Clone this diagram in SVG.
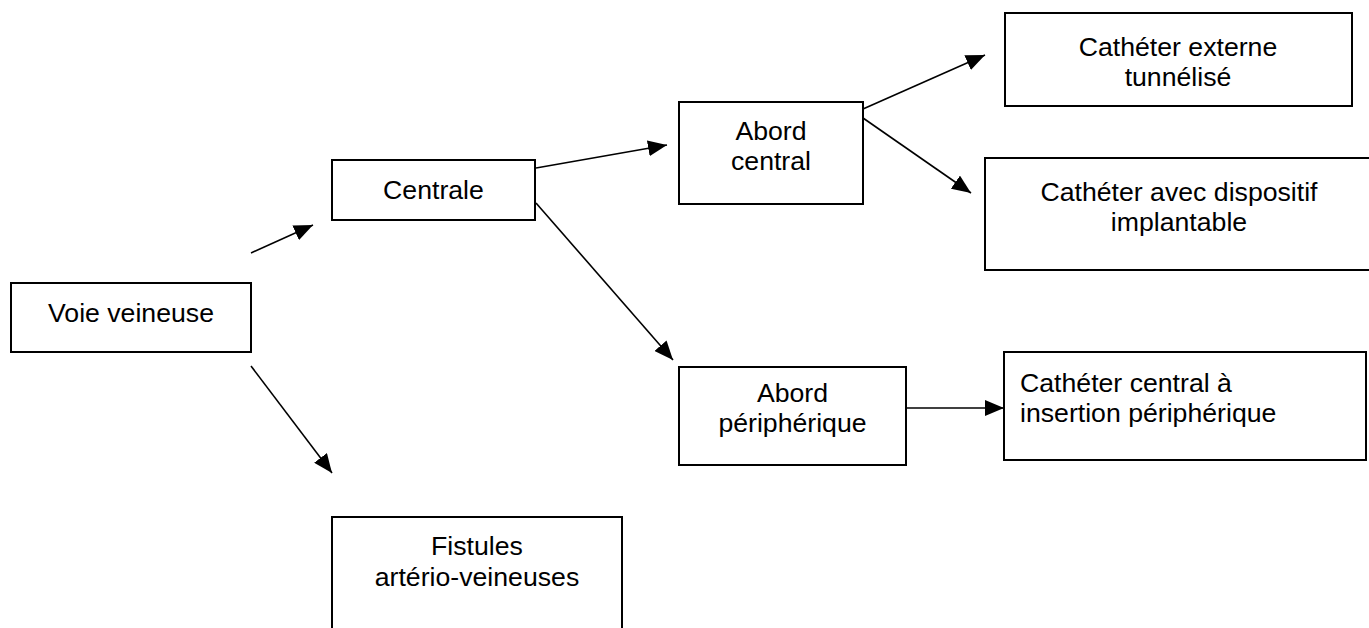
<svg xmlns="http://www.w3.org/2000/svg" width="1369" height="628" viewBox="0 0 1369 628">
<style>
.box{fill:#fff;stroke:#000;stroke-width:2}
.t{font-family:"Liberation Sans",Arial,sans-serif;font-size:26.67px;fill:#000;text-anchor:middle}
.tl{text-anchor:start}
.c{stroke:#000;stroke-width:1.6;fill:none;marker-end:url(#ah)}
</style>
<defs>
<marker id="ah" markerUnits="userSpaceOnUse" markerWidth="20" markerHeight="16" refX="19" refY="8" orient="auto">
<path d="M0,0 L19,8 L0,16 Z" fill="#000"/>
</marker>
</defs>
<rect width="1369" height="628" fill="#fff"/>
<g id="connectors">
<line class="c" x1="251" y1="253" x2="313" y2="225"/>
<line class="c" x1="251" y1="366" x2="332" y2="473"/>
<line class="c" x1="536" y1="168" x2="667" y2="145"/>
<line class="c" x1="536" y1="203" x2="673" y2="360"/>
<line class="c" x1="863" y1="109" x2="985" y2="55"/>
<line class="c" x1="863" y1="118" x2="971" y2="193"/>
<line class="c" x1="906" y1="408" x2="1004" y2="408"/>
</g>
<g id="voie-veineuse">
<rect class="box" x="11" y="283" width="240" height="69"/>
<text class="t" x="131" y="322">Voie veineuse</text>
</g>
<g id="centrale">
<rect class="box" x="332" y="160" width="203" height="60"/>
<text class="t" x="433.5" y="199">Centrale</text>
</g>
<g id="abord-central">
<rect class="box" x="679" y="102" width="184" height="102"/>
<text class="t" x="771" y="140">Abord</text>
<text class="t" x="771" y="170">central</text>
</g>
<g id="catheter-externe">
<rect class="box" x="1005" y="13" width="347" height="93"/>
<text class="t" x="1178" y="56">Cathéter externe</text>
<text class="t" x="1178" y="86">tunnélisé</text>
</g>
<g id="catheter-implantable">
<rect class="box" x="985" y="158" width="392" height="112"/>
<text class="t" x="1179" y="201">Cathéter avec dispositif</text>
<text class="t" x="1179" y="231">implantable</text>
</g>
<g id="abord-peripherique">
<rect class="box" x="679" y="367" width="227" height="98"/>
<text class="t" x="792.5" y="402">Abord</text>
<text class="t" x="792.5" y="432">périphérique</text>
</g>
<g id="catheter-central">
<rect class="box" x="1004" y="352" width="362" height="108"/>
<text class="t tl" x="1020" y="392">Cathéter central à</text>
<text class="t tl" x="1020" y="422">insertion périphérique</text>
</g>
<g id="fistules">
<rect class="box" x="332" y="517" width="290" height="130"/>
<text class="t" x="477" y="555">Fistules</text>
<text class="t" x="477" y="586">artério-veineuses</text>
</g>
</svg>
